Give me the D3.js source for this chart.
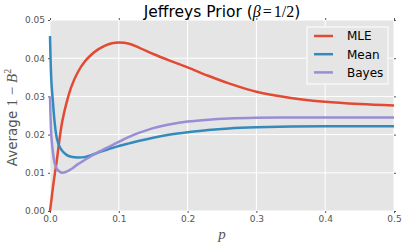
<!DOCTYPE html>
<html>
<head>
<meta charset="utf-8">
<script src="https://cdn.jsdelivr.net/npm/d3@7"></script>
<style>
body { margin: 0; background: #fff; }
text { font-family: "DejaVu Sans", sans-serif; }
</style>
</head>
<body>
<div id="chart"></div>
<script>
var w = 407;
var h = 248;
var margin = {top: 20, right: 13, bottom: 37, left: 50};

// p values shared by the three series
var pValues = [0, 0.002, 0.0045, 0.007, 0.01, 0.014, 0.018, 0.024, 0.031, 0.04,
    0.05, 0.06, 0.07, 0.08, 0.09, 0.1, 0.115, 0.13, 0.15, 0.175,
    0.2, 0.23, 0.26, 0.3, 0.35, 0.4, 0.45, 0.5];
var mleValues = [0, 0.0028, 0.0065, 0.0097, 0.0134, 0.0190, 0.0236, 0.0283, 0.0325, 0.0362,
    0.0390, 0.0409, 0.0423, 0.0433, 0.0439, 0.0441, 0.0438, 0.0427, 0.0411, 0.0393,
    0.0376, 0.0354, 0.0334, 0.0312, 0.0296, 0.0286, 0.0280, 0.0276];
var meanValues = [0.0458, 0.0340, 0.0280, 0.0228, 0.0190, 0.0168, 0.0157, 0.0147, 0.0142, 0.0140,
    0.0141, 0.0146, 0.0153, 0.0159, 0.0165, 0.0170, 0.0177, 0.0184, 0.0192, 0.0200,
    0.0206, 0.0212, 0.0216, 0.0219, 0.0221, 0.0222, 0.0222, 0.0222];
var bayesValues = [0.0300, 0.0195, 0.0150, 0.0124, 0.0110, 0.0103, 0.0100, 0.0103, 0.0110, 0.0122,
    0.0133, 0.0144, 0.0154, 0.0163, 0.0172, 0.0181, 0.0194, 0.0205, 0.0217, 0.0227,
    0.0234, 0.0239, 0.0242, 0.0244, 0.0245, 0.0245, 0.0245, 0.0245];
var seriesNames = ["MLE", "Mean", "Bayes"];
var seriesColors = ["#E24A33", "#348ABD", "#988ED5"];
var xTicks = [0, 0.1, 0.2, 0.3, 0.4, 0.5];
var yTicks = [0, 0.01, 0.02, 0.03, 0.04, 0.05];

var series = [mleValues, meanValues, bayesValues];

var svg = d3.select("#chart").append("svg").attr("width", w).attr("height", h);

var x = d3.scaleLinear().domain([0, 0.5]).range([margin.left, w - margin.right]);
var y = d3.scaleLinear().domain([0, 0.05]).range([h - margin.bottom, margin.top]);

svg.append("rect")
    .attr("x", x(0)).attr("y", y(0.05))
    .attr("width", x(0.5) - x(0)).attr("height", y(0) - y(0.05))
    .style("fill", "#E5E5E5");

// grid
svg.selectAll("line.gx").data(xTicks).enter().append("line")
    .attr("x1", function(d){ return x(d); }).attr("x2", function(d){ return x(d); })
    .attr("y1", y(0)).attr("y2", y(0.05))
    .style("stroke", "#fff").style("stroke-width", 1);
svg.selectAll("line.gy").data(yTicks).enter().append("line")
    .attr("y1", function(d){ return y(d); }).attr("y2", function(d){ return y(d); })
    .attr("x1", x(0)).attr("x2", x(0.5))
    .style("stroke", "#fff").style("stroke-width", 1);

// axes
var xAxis = svg.append("g").attr("transform", "translate(0," + y(0) + ")")
    .call(d3.axisBottom(x).tickValues(xTicks).tickFormat(d3.format(".1f")).tickSize(2).tickPadding(3));
var xTop = svg.append("g").attr("transform", "translate(0," + y(0.05) + ")")
    .call(d3.axisTop(x).tickValues(xTicks).tickSize(2).tickFormat(""));
var yAxis = svg.append("g").attr("transform", "translate(" + x(0) + ",0)")
    .call(d3.axisLeft(y).tickValues(yTicks).tickFormat(d3.format(".2f")).tickSize(2).tickPadding(3));
var yRight = svg.append("g").attr("transform", "translate(" + x(0.5) + ",0)")
    .call(d3.axisRight(y).tickValues(yTicks).tickSize(2).tickFormat(""));

[xAxis, xTop, yAxis, yRight].forEach(function(a){
    a.select(".domain").remove();
    a.selectAll(".tick line").style("stroke", "#555");
    a.selectAll(".tick text").style("fill", "#555").attr("font-size", "9px")
        .style("font-family", "DejaVu Sans");
});

// lines
var line = d3.line()
    .x(function(d, i){ return x(pValues[i]); })
    .y(function(d){ return y(d); })
    .curve(d3.curveCatmullRom.alpha(0.5));

svg.selectAll("path.series").data(series).enter().append("path")
    .attr("d", function(d){ return line(d); })
    .style("fill", "none")
    .style("stroke", function(d, i){ return seriesColors[i]; })
    .style("stroke-width", 2.5)
    .style("stroke-linejoin", "round");

// title
var title = svg.append("text")
    .attr("x", (x(0) + x(0.5)) / 2).attr("y", 17)
    .attr("text-anchor", "middle").attr("font-size", "15.5px").style("fill", "#000");
title.append("tspan").text("Jeffreys Prior (");
title.append("tspan").text("β").style("font-family", "Liberation Serif").style("font-style", "italic").attr("font-size", "16px");
title.append("tspan").text("=").style("font-family", "Liberation Serif").attr("dx", 2).attr("font-size", "16px");
title.append("tspan").text("1/2").style("font-family", "Liberation Serif").attr("dx", 2).attr("font-size", "16px");
title.append("tspan").text(")");

// y label
var yl = svg.append("text")
    .attr("transform", "translate(17," + ((y(0) + y(0.05)) / 2 + 2) + ") rotate(-90)")
    .attr("text-anchor", "middle").attr("font-size", "13.5px").style("fill", "#555");
yl.append("tspan").text("Average ");
yl.append("tspan").text("1 − ").style("font-family", "Liberation Serif").attr("font-size", "15px");
yl.append("tspan").text("B").style("font-family", "Liberation Serif").style("font-style", "italic").attr("font-size", "15px");
yl.append("tspan").text("2").style("font-family", "Liberation Serif").attr("font-size", "10px").attr("dy", "-6");

// x label
svg.append("text")
    .attr("x", (x(0) + x(0.5)) / 2).attr("y", 239)
    .attr("text-anchor", "middle").attr("font-size", "15px")
    .style("font-family", "Liberation Serif").style("font-style", "italic").style("fill", "#555")
    .text("p");

// legend
var lg = svg.append("g");
lg.append("rect").attr("x", 307).attr("y", 27).attr("width", 81).attr("height", 57)
    .style("fill", "#E5E5E5").style("stroke", "#fff").style("stroke-width", 1);
seriesNames.forEach(function(name, i){
    var ly = 36 + i * 18.2;
    lg.append("line").attr("x1", 314).attr("x2", 333).attr("y1", ly).attr("y2", ly)
        .style("stroke", seriesColors[i]).style("stroke-width", 2.5);
    lg.append("text").attr("x", 347).attr("y", ly + 4.3).attr("font-size", "12px")
        .style("fill", "#000").text(name);
});
</script>
</body>
</html>
